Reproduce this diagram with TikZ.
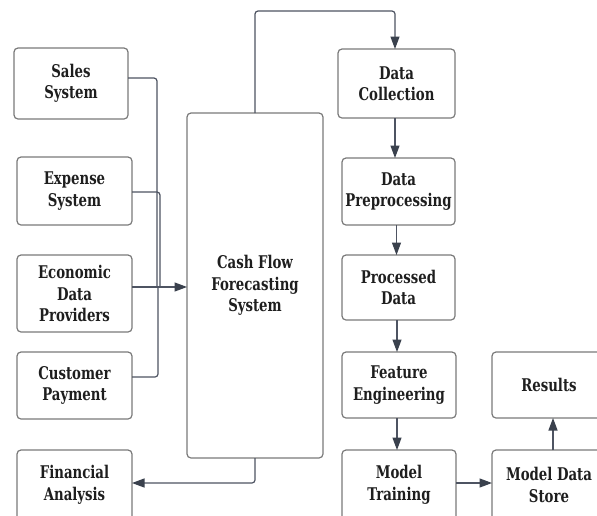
\documentclass[tikz,border=0pt]{standalone}
\usepackage{fontspec}
\newfontfamily\boxfont{DejaVu Serif}[FakeStretch=0.76]
\usetikzlibrary{arrows.meta}
\definecolor{boxline}{HTML}{7A7A7A}
\definecolor{wire}{HTML}{4E5462}
\definecolor{tip}{HTML}{3A414D}
\definecolor{ink}{HTML}{1E1E1E}
\tikzset{
  box/.style={draw=boxline, line width=1.2pt, rounded corners=4pt, fill=white,
    inner sep=0pt, outer sep=0pt, align=center, text=ink,
    font=\boxfont\fontsize{17.5}{21.5}\selectfont\bfseries},
  wirepath/.style={draw=wire, line width=1.2pt, rounded corners=3pt},
  arrowpath/.style={wirepath, -{Triangle[length=12.5pt,width=9pt,fill=tip,color=tip]}}
}
\begin{document}
\begin{tikzpicture}[x=1pt,y=-1pt]
\clip (0,0) rectangle (597,515);
\fill[white] (0,0) rectangle (597,515);

% sources on the left
\node[box, minimum width=114pt, minimum height=71pt] (sales) at (71,83.5) {Sales\\System};
\node[box, minimum width=115pt, minimum height=68pt] (expense) at (74.5,191) {Expense\\System};
\node[box, minimum width=115pt, minimum height=77pt] (econ) at (74.5,293.5) {Economic\\Data\\Providers};
\node[box, minimum width=115pt, minimum height=67pt] (cust) at (74.5,385.5) {Customer\\Payment};
\node[box, minimum width=115pt, minimum height=70pt] (fin) at (74.5,485) {Financial\\Analysis};

% central system
\node[box, minimum width=136pt, minimum height=345pt] (main) at (255,285.5) {Cash Flow\\Forecasting\\System};

% pipeline
\node[box, minimum width=117pt, minimum height=69pt] (dc) at (396.5,83.5) {Data\\Collection};
\node[box, minimum width=113pt, minimum height=67pt] (dp) at (398.5,191.5) {Data\\Preprocessing};
\node[box, minimum width=113pt, minimum height=65pt] (pd) at (398.5,287.5) {Processed\\Data};
\node[box, minimum width=114pt, minimum height=66pt] (fe) at (399,385) {Feature\\Engineering};
\node[box, minimum width=114pt, minimum height=70pt] (mt) at (399,485) {Model\\Training};
\node[box, minimum width=114pt, minimum height=66pt] (res) at (549,385) {Results};
\node[box, minimum width=114pt, minimum height=70pt] (mds) at (549,485) {Model Data\\Store};

% merging inputs into the system
\coordinate (join) at (158,287);
\draw[wirepath] ([yshift=5.5pt]sales.east) -| ([xshift=-1pt]join);
\draw[wirepath] ([yshift=-1pt]expense.east) -| ([xshift=2pt]join);
\draw[wirepath] ([yshift=8.5pt]cust.east) -| (join);
\draw[arrowpath] (econ.east |- join) -- (main.west |- join);

% system outputs
\coordinate (top) at (255,11);
\draw[arrowpath] (main.north) -- (top) -| ([xshift=-1.5pt]dc.north);
\draw[arrowpath] (main.south) |- ([yshift=2pt]fin.east);

% pipeline flow
\draw[arrowpath] ([xshift=-1.5pt]dc.south) -- ([xshift=-1.5pt]dc.south |- dp.north);
\draw[arrowpath] ([xshift=-2pt]dp.south) -- ([xshift=-2pt]dp.south |- pd.north);
\draw[arrowpath] ([xshift=-1.5pt]pd.south) -- ([xshift=-1.5pt]pd.south |- fe.north);
\draw[arrowpath] ([xshift=-2pt]fe.south) -- ([xshift=-2pt]fe.south |- mt.north);
\draw[arrowpath] ([yshift=2pt]mt.east) -- ([yshift=2pt]mds.west);
\draw[arrowpath] ([xshift=4pt]mds.north) -- ([xshift=4pt]res.south);
\end{tikzpicture}
\end{document}
